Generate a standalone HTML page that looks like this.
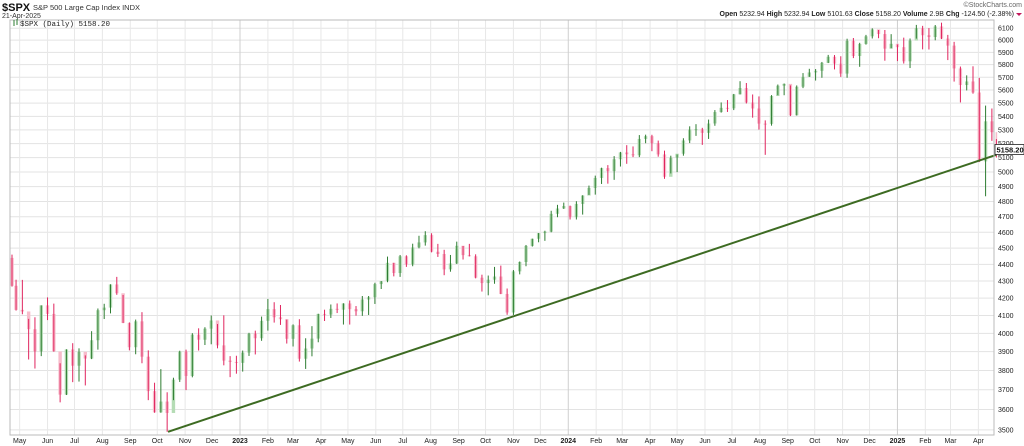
<!DOCTYPE html>
<html><head><meta charset="utf-8"><style>
html,body{margin:0;padding:0;background:#fff;}
body{width:1024px;height:446px;overflow:hidden;font-family:"Liberation Sans",sans-serif;}
svg{display:block}
</style></head><body>
<svg id="chart" width="1024" height="446" viewBox="0 0 1024 446" xmlns="http://www.w3.org/2000/svg">
<g id="grid"></g>
<g id="bars"></g>
<g id="over"></g>
<g id="axes"></g>
<text x="2" y="11" font-size="11" font-weight="bold" fill="#111">$SPX</text>
<text x="33" y="10" font-size="7.5" fill="#333">S&amp;P 500 Large Cap Index  INDX</text>
<text x="2" y="18" font-size="7" fill="#333">21-Apr-2025</text>
<text x="1022" y="7" font-size="7" fill="#666" text-anchor="end">©StockCharts.com</text>
<text x="1014" y="16" font-size="7" fill="#222" text-anchor="end"><tspan font-weight="bold">Open</tspan> 5232.94 <tspan font-weight="bold">High</tspan> 5232.94 <tspan font-weight="bold">Low</tspan> 5101.63 <tspan font-weight="bold">Close</tspan> 5158.20 <tspan font-weight="bold">Volume</tspan> 2.9B <tspan font-weight="bold">Chg</tspan> -124.50 (-2.38%)</text>
<polygon points="1016,13 1022,13 1019,16" fill="#c2185b"/>
<text x="20" y="26" font-size="7.5" font-family="Liberation Mono, monospace" fill="#222">$SPX (Daily) 5158.20</text>
<path d="M14 20 V26 M17 19 V25" stroke="#2e7d32" stroke-width="1"/>
</svg>
<script>
const highs=[4460,4308,4307,4081,4090,4158,4204,4168,3838,3913,3946,3918,3880,4012,4140,4167,4281,4325,4218,4061,4077,4119,3907,3736,3807,3687,3762,3905,3911,4001,4028,4034,4100,4052,4101,3876,3878,
3906,4003,4015,4094,4195,4176,4160,4077,4050,4079,3973,4040,4110,4133,4163,4169,4170,4186,4154,4212,4212,4290,4300,4448,4410,4458,4456,4528,4578,4607,4594,4527,4490,4458,4541,4514,4527,4462,4338,4333,4385,4393,4256,4366,4418,4520,4560,4595,4610,4739,4778,4793,
4773,4802,4842,4907,4975,5030,5048,5111,5141,5189,5180,5262,5265,5264,5222,5150,5114,5123,5239,5326,5342,5315,5376,5447,5505,5523,5570,5669,5655,5566,5551,5370,5561,5643,5651,5636,5636,5733,5767,5765,5822,5879,5878,5868,6012,6018,5978,6044,6099,6085,6085,6050,
5965,6021,6014,6128,6120,6101,6127,6147,6044,5986,5785,5715,5787,5695,5481,5459,5233];
const lows=[4267,4128,4107,3858,3810,3876,4074,3900,3636,3673,3739,3742,3722,3860,3911,4080,4112,4219,4057,3907,3886,3838,3647,3584,3584,3491,3647,3740,3698,3764,3906,3936,3940,3918,3827,3765,3783,
3794,3877,3885,3959,4015,4060,4047,3944,3928,3847,3808,3875,3951,4069,4086,4114,4049,4049,4099,4098,4103,4166,4253,4293,4328,4325,4385,4389,4499,4516,4474,4446,4335,4356,4403,4430,4449,4316,4238,4216,4284,4223,4104,4103,4340,4389,4510,4537,4546,4600,4697,4751,
4682,4682,4714,4844,4846,4918,4920,4946,5038,5057,5104,5104,5203,5146,5107,4953,4990,4999,5114,5204,5256,5191,5234,5330,5428,5433,5447,5566,5497,5390,5302,5120,5331,5560,5560,5402,5406,5615,5703,5674,5696,5813,5762,5703,5696,5853,5783,5963,6014,6016,5832,5933,
5829,5809,5773,6013,5924,5923,5999,6009,5837,5666,5505,5597,5572,5069,4835,5220,5101];
const closes=[4272,4132,4123,4023,3901,4158,4109,3901,3675,3912,3825,3899,3863,3962,4130,4145,4280,4228,4058,3924,4067,3873,3693,3586,3640,3583,3752,3901,3771,3993,3965,4026,4072,3934,3852,3845,3840,
3895,3999,3973,4070,4136,4090,4079,3970,4045,3862,3917,3971,4109,4105,4138,4133,4169,4136,4124,4192,4205,4282,4299,4410,4348,4450,4399,4505,4536,4582,4478,4464,4370,4406,4515,4457,4450,4320,4288,4308,4327,4224,4117,4358,4415,4514,4559,4595,4604,4719,4754,4770,
4697,4784,4840,4891,4959,5027,5006,5089,5137,5124,5117,5234,5254,5204,5123,4967,5100,5128,5223,5303,5305,5278,5347,5432,5464,5460,5567,5615,5505,5459,5346,5344,5554,5634,5648,5408,5626,5703,5738,5751,5815,5864,5808,5729,5995,5870,5969,6032,6090,6051,5930,5970,
5942,5827,5997,6101,6041,6026,6115,6013,5955,5770,5639,5667,5581,5074,5363,5283,5158];
const firstOpen=4440;
const priceTicks=[3500,3600,3700,3800,3900,4000,4100,4200,4300,4400,4500,4600,4700,4800,4900,5000,5100,5200,5300,5400,5500,5600,5700,5800,5900,6000,6100];
const monthLabels=["May","Jun","Jul","Aug","Sep","Oct","Nov","Dec","2023","Feb","Mar","Apr","May","Jun","Jul","Aug","Sep","Oct","Nov","Dec","2024","Feb","Mar","Apr","May","Jun","Jul","Aug","Sep","Oct","Nov","Dec","2025","Feb","Mar","Apr"];
const trendStart={date:"2022-10-13",price:3491};
const trendEnd={date:"2025-04-21",price:5120};
const lastClose=5158.20;

const NS="http://www.w3.org/2000/svg";
const L=10,R=994,T=20,B=435;
const DAY=86400000, T0=Date.UTC(2023,0,1);
function xOf(ms){return 240+(ms-T0)/DAY/365.25*328.5;}
function yOf(p){return 172-1665*Math.log10(p/5000);}
function mk(tag,attrs,parent){const e=document.createElementNS(NS,tag);for(const k in attrs)e.setAttribute(k,attrs[k]);parent.appendChild(e);return e;}
const grid=document.getElementById('grid'),bars=document.getElementById('bars'),over=document.getElementById('over'),axes=document.getElementById('axes');

priceTicks.forEach(p=>{
  const y=yOf(p);
  const g=mk('line',{x1:L,x2:R,y1:y,y2:y,stroke:'#e3e3e3','stroke-width':1},grid);
  
  
  const t=mk('text',{x:998,y:y+2.5,'font-size':7,fill:'#222'},axes);
  t.textContent=p;
  
  
});
monthLabels.forEach((lab,i)=>{
  const m=4+i; const yr=2022+Math.floor(m/12);
  const x=xOf(Date.UTC(yr,m%12,1));
  const isYear=/^\d{4}$/.test(lab);
  const g=mk('line',{x1:x,x2:x,y1:T,y2:B,stroke:isYear?'#cfcfcf':'#e8e8e8','stroke-width':1},grid);
  
  
  const t=mk('text',{x:x,y:443,'font-size':7,fill:'#222','text-anchor':'middle','font-weight':isYear?'bold':'normal'},axes);
  t.textContent=lab;
  
  
});
const fr=mk('rect',{x:L,y:T,width:R-L,height:B-T,fill:'none',stroke:'#bbb','stroke-width':1},axes);



const start=Date.UTC(2022,3,22);
closes.forEach((c,i)=>{
  let cx,w;
  if(i<closes.length-1){cx=Math.max(12,xOf(start+(7*i-2)*DAY));w=3.4;}
  else{cx=xOf(Date.UTC(2025,3,21));w=1.6;}
  const o=i===0?firstOpen:closes[i-1];
  const up=c>=o;
  const y1=yOf(Math.max(o,c)),y2=yOf(Math.min(o,c));
  const body=mk('rect',{x:cx-w/2,y:y1,width:w,height:Math.max(1,y2-y1),fill:up?'#b5dcb5':'#f7bccb'},bars);
  
  
  const wick=mk('line',{x1:cx,x2:cx,y1:yOf(highs[i]),y2:yOf(lows[i]),stroke:up?'#2e7d32':'#e0245e','stroke-width':1},bars);
  
  
});

const tl=mk('line',{x1:xOf(Date.parse(trendStart.date)),y1:yOf(trendStart.price),x2:xOf(Date.parse(trendEnd.date)),y2:yOf(trendEnd.price),stroke:'#3d6b22','stroke-width':2},over);



const ly=yOf(lastClose);
const tag=mk('rect',{x:995,y:ly-5,width:29,height:10,fill:'#fff',stroke:'#222','stroke-width':0.8},axes);


const tt=mk('text',{x:996.5,y:ly+3,'font-size':7.5,fill:'#111','font-weight':'bold'},axes);
tt.textContent=lastClose.toFixed(2);


</script>
</body></html>
